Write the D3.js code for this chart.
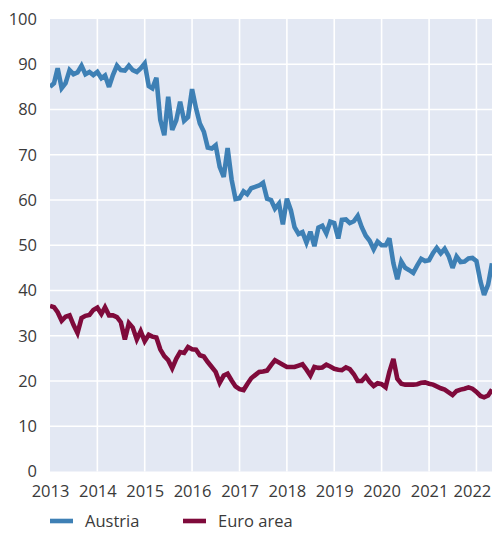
<!DOCTYPE html>
<html>
<head>
<meta charset="utf-8">
<script src="https://cdn.jsdelivr.net/npm/d3@7"></script>
<style>
  html, body { margin: 0; padding: 0; background: #fff; }
  svg { display: block; font-family: "Open Sans", "Noto Sans", sans-serif; }
</style>
</head>
<body>
<svg id="chart" width="492" height="533"></svg>
<script>
// ---- Data (monthly, Jan 2013 – May 2022) ----
const startMonth = "2013-01";
const austria = [
  85.0, 85.8, 89.1, 84.7, 85.8, 88.7, 87.8, 88.2, 89.7, 87.8, 88.3, 87.6,
  88.3, 86.9, 87.5, 85.0, 87.6, 89.7, 88.7, 88.6, 89.7, 88.7, 88.3, 89.1,
  90.2, 85.2, 84.7, 87.0, 77.7, 74.3, 82.8, 75.5, 77.6, 81.7, 77.5, 78.3,
  84.5, 80.2, 76.9, 75.1, 71.6, 71.4, 72.1, 67.3, 65.1, 71.5, 64.5, 60.2,
  60.4, 61.9, 61.3, 62.6, 62.9, 63.2, 63.8, 60.3, 60.0, 58.1, 59.2, 54.6,
  60.3, 57.7, 54.0, 52.5, 52.9, 50.6, 53.0, 49.8, 53.9, 54.3, 52.6, 55.2,
  54.9, 51.5, 55.6, 55.7, 54.9, 55.3, 56.5, 54.0, 52.1, 51.0, 49.1, 50.8,
  50.0, 50.0, 51.5, 46.0, 42.5, 46.4, 45.0, 44.5, 43.9, 45.5, 47.0, 46.5,
  46.7, 48.3, 49.4, 48.2, 49.2, 47.6, 45.0, 47.5, 46.3, 46.4, 47.1, 47.2,
  46.5, 42.0, 39.0, 41.3, 46.0
];
const euroArea = [
  36.6, 36.3, 35.2, 33.3, 34.2, 34.5, 32.4, 30.6, 33.9, 34.4, 34.6, 35.7,
  36.2, 34.8, 36.3, 34.5, 34.5, 34.1, 33.0, 29.2, 32.8, 31.8, 29.2, 31.0,
  28.8, 30.2, 29.8, 29.6, 27.0, 25.5, 24.6, 22.8, 24.9, 26.4, 26.2, 27.5,
  27.0, 26.9, 25.7, 25.4, 24.2, 23.1, 22.0, 19.6, 21.2, 21.6, 20.1, 18.8,
  18.2, 18.0, 19.3, 20.6, 21.3, 22.0, 22.1, 22.3, 23.5, 24.6, 24.1, 23.6,
  23.1, 23.1, 23.1, 23.4, 23.7, 22.5, 21.2, 23.1, 22.9, 23.0, 23.6, 23.2,
  22.7, 22.5, 22.4, 23.0, 22.6, 21.5, 20.0, 20.0, 21.0, 19.8, 18.9, 19.5,
  19.3, 18.6, 22.0, 24.9, 20.5, 19.4, 19.2, 19.2, 19.2, 19.3, 19.6, 19.7,
  19.4, 19.2, 18.8, 18.4, 18.1, 17.5, 16.9, 17.8, 18.1, 18.3, 18.6, 18.3,
  17.6, 16.7, 16.4, 16.8, 18.1
];
const seriesNames = ["Austria", "Euro area"];
const seriesColors = ["#3e80b5", "#7f0a3b"];
const yTicks = [0, 10, 20, 30, 40, 50, 60, 70, 80, 90, 100];
const xTickYears = [2013, 2014, 2015, 2016, 2017, 2018, 2019, 2020, 2021, 2022];

// ---- Layout ----
const svg = d3.select("#chart");
const plot = { left: 50, right: 492, top: 19, bottom: 471.5 };

const parse = d3.timeParse("%Y-%m");
const t0 = parse(startMonth);
const dates = austria.map((_, i) => d3.timeMonth.offset(t0, i));

const x = d3.scaleTime()
  .domain([t0, new Date(2022, 4, 1)])
  .range([plot.left, plot.right]);
const y = d3.scaleLinear().domain([0, 100]).range([plot.bottom, plot.top]);

// background
svg.append("rect")
  .attr("x", plot.left).attr("y", plot.top)
  .attr("width", plot.right - plot.left).attr("height", plot.bottom - plot.top)
  .attr("fill", "#e3e8f3");

// gridlines
const grid = svg.append("g");
grid.selectAll("line.h").data(yTicks.filter(v => v > 0 && v < 100)).join("line")
  .attr("x1", plot.left).attr("x2", plot.right)
  .attr("y1", d => y(d)).attr("y2", d => y(d))
  .attr("stroke", "#fff").attr("stroke-width", 1.6);
grid.selectAll("line.v").data(xTickYears.slice(1)).join("line")
  .attr("x1", d => x(new Date(d, 0, 1))).attr("x2", d => x(new Date(d, 0, 1)))
  .attr("y1", plot.top).attr("y2", plot.bottom)
  .attr("stroke", "#fff").attr("stroke-width", 1.6);

// clip
svg.append("clipPath").attr("id", "clip").append("rect")
  .attr("x", plot.left).attr("y", plot.top - 5)
  .attr("width", plot.right - plot.left).attr("height", plot.bottom - plot.top + 5);

const line = d3.line().x((d, i) => x(dates[i])).y(d => y(d));
const lines = svg.append("g").attr("clip-path", "url(#clip)");
[[euroArea, 1], [austria, 0]].forEach(([s, idx]) => {
  lines.append("path")
    .datum(s)
    .attr("d", line)
    .attr("fill", "none")
    .attr("stroke", seriesColors[idx])
    .attr("stroke-width", 4.6)
    .attr("stroke-linejoin", "miter")
    .attr("stroke-miterlimit", 3);
});

// y axis labels
const yAxis = d3.axisLeft(y).tickValues(yTicks).tickSize(0).tickPadding(0);
const gy = svg.append("g").attr("transform", `translate(37,0)`).call(yAxis);
gy.select(".domain").remove();
gy.selectAll("text").attr("font-size", 16.5).attr("fill", "#3a3a3a")
  .attr("font-family", "\"Open Sans\", sans-serif");

// x axis labels
const xAxis = d3.axisBottom(x)
  .tickValues(xTickYears.map(yy => new Date(yy, 0, 1)))
  .tickFormat(d3.timeFormat("%Y")).tickSize(0).tickPadding(0);
const gx = svg.append("g").attr("transform", `translate(0,${plot.bottom + 14})`).call(xAxis);
gx.select(".domain").remove();
gx.selectAll("text").attr("font-size", 16.5).attr("fill", "#3a3a3a")
  .attr("font-family", "\"Open Sans\", sans-serif");
// keep last label inside the window
gx.selectAll("text").filter(d => d.getFullYear() === 2022).attr("dx", -4.5);

// legend
const legendItems = [{ x: 50 }, { x: 183 }];
const lg = svg.append("g");
seriesNames.forEach((name, i) => {
  const g = lg.append("g").attr("transform", `translate(${legendItems[i].x},521)`);
  g.append("line").attr("x1", 0).attr("x2", 23).attr("y1", 0).attr("y2", 0)
    .attr("stroke", seriesColors[i]).attr("stroke-width", 4.6);
  g.append("text").attr("x", 35).attr("y", 0).attr("dy", "0.35em")
    .attr("font-size", 16.5).attr("fill", "#3a3a3a").text(name);
});
</script>
</body>
</html>
